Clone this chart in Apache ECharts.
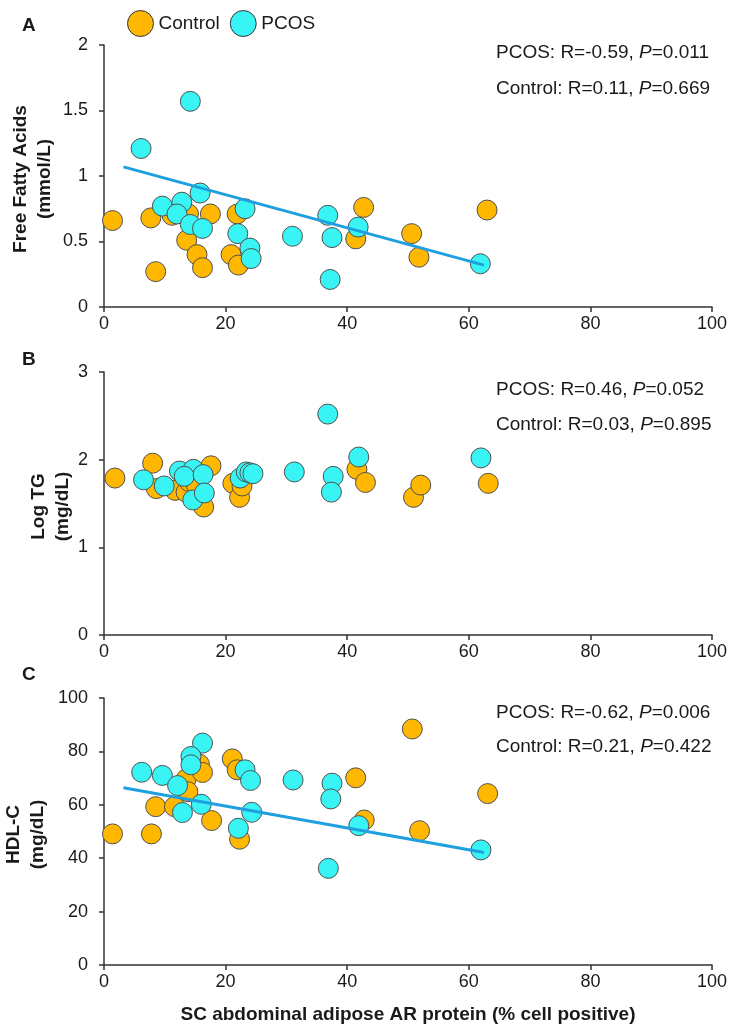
<!DOCTYPE html>
<html>
<head>
<meta charset="utf-8">
<script src="https://cdn.jsdelivr.net/npm/echarts@6/dist/echarts.min.js"></script>
<style>
html,body{margin:0;padding:0;background:#fff;}
#chart{width:737px;height:1034px;}
</style>
</head>
<body>
<div id="chart"></div>
<script>
// ---- Data ----
const xTicks = [0, 20, 40, 60, 80, 100];

const ffaControl = [[1.4,0.66],[7.7,0.68],[8.5,0.27],[11.2,0.70],[13.9,0.71],[13.6,0.51],[15.3,0.40],[16.2,0.30],[17.5,0.71],[20.9,0.40],[21.9,0.71],[22.1,0.32],[41.4,0.52],[42.7,0.76],[50.6,0.56],[51.8,0.38],[63.0,0.74]];
const ffaPCOS = [[6.1,1.21],[14.2,1.57],[15.8,0.87],[9.6,0.77],[12.8,0.80],[12.0,0.71],[23.2,0.75],[14.2,0.63],[16.2,0.60],[22.0,0.56],[31.0,0.54],[24.0,0.45],[24.2,0.37],[36.8,0.70],[37.5,0.53],[37.2,0.21],[41.8,0.61],[61.9,0.33]];
const ffaFit = [[3.2,1.07],[62.5,0.32]];

const tgControl = [[1.8,1.79],[8.0,1.96],[8.6,1.67],[11.7,1.65],[13.5,1.63],[14.0,1.75],[15.2,1.71],[16.4,1.46],[17.6,1.93],[21.2,1.73],[22.3,1.57],[22.7,1.70],[41.6,1.89],[43.0,1.74],[50.9,1.57],[52.1,1.71],[63.2,1.73]];
const tgPCOS = [[36.8,2.52],[6.5,1.77],[9.9,1.70],[12.4,1.87],[14.7,1.89],[13.2,1.81],[16.3,1.83],[14.6,1.54],[16.5,1.62],[22.4,1.79],[23.4,1.86],[24.0,1.85],[24.5,1.84],[31.3,1.86],[37.7,1.81],[37.4,1.63],[41.9,2.03],[62.0,2.02]];

const hdlControl = [[1.4,49.1],[7.8,49.1],[8.5,59.3],[11.6,59.3],[13.5,69.6],[13.8,64.9],[15.7,75.2],[16.2,72.1],[17.7,54.1],[21.1,77.2],[21.9,73.1],[22.3,47.1],[50.7,88.4],[41.4,70.1],[42.8,54.3],[51.9,50.3],[63.1,64.2]];
const hdlPCOS = [[16.2,83.1],[14.3,78.1],[14.3,75.0],[6.2,72.2],[9.6,71.0],[12.1,67.2],[23.2,73.1],[24.1,69.1],[31.1,69.3],[37.5,68.1],[37.3,62.2],[16.0,60.2],[12.9,57.1],[24.3,57.2],[22.1,51.2],[36.9,36.2],[41.9,52.2],[62.0,43.1]];
const hdlFit = [[3.2,66.4],[62.5,42.1]];

const panelLetters = ['A', 'B', 'C'];
const yNames = ['Free Fatty Acids\n(mmol/L)', 'Log TG\n(mg/dL)', 'HDL-C\n(mg/dL)'];
const yRanges = [[0, 2, 0.5], [0, 3, 1], [0, 100, 20]];
const statsPCOS = ['PCOS: R=-0.59, {i|P}=0.011', 'PCOS: R=0.46, {i|P}=0.052', 'PCOS: R=-0.62, {i|P}=0.006'];
const statsControl = ['Control: R=0.11, {i|P}=0.669', 'Control: R=0.03, {i|P}=0.895', 'Control: R=0.21, {i|P}=0.422'];

// ---- Styles ----
const FONT = '"Liberation Sans", Arial, sans-serif';
const ORANGE = '#FFB700';
const CYAN = '#38F4F4';
const LINE = '#1E9FE0';
const AX = '#333333';

const grids = [
  {left: 104, top: 45, width: 608, height: 262, containLabel: false, outerBoundsMode: 'none'},
  {left: 104, top: 372, width: 608, height: 263, containLabel: false, outerBoundsMode: 'none'},
  {left: 104, top: 698, width: 608, height: 267, containLabel: false, outerBoundsMode: 'none'}
];

const xAxes = grids.map((g, i) => ({
  gridIndex: i, type: 'value', min: 0, max: 100, interval: 20,
  axisLine: {show: true, lineStyle: {color: AX, width: 1.5}},
  axisTick: {show: true, length: 5, lineStyle: {color: AX, width: 1.5}},
  axisLabel: {color: '#1a1a1a', fontSize: 18, fontFamily: FONT, margin: 8},
  splitLine: {show: false},
  name: i === 2 ? 'SC abdominal adipose AR protein (% cell positive)' : '',
  nameLocation: 'middle', nameGap: 40,
  nameTextStyle: {color: '#1a1a1a', fontSize: 19, fontWeight: 'bold', fontFamily: FONT}
}));

const yAxes = grids.map((g, i) => ({
  gridIndex: i, type: 'value', min: yRanges[i][0], max: yRanges[i][1], interval: yRanges[i][2],
  axisLine: {show: true, lineStyle: {color: AX, width: 1.5}},
  axisTick: {show: true, length: 5, lineStyle: {color: AX, width: 1.5}},
  axisLabel: {color: '#1a1a1a', fontSize: 18, fontFamily: FONT, margin: 16},
  splitLine: {show: false}
}));

function scatter(name, data, i, color) {
  return {
    name: name, type: 'scatter', xAxisIndex: i, yAxisIndex: i, data: data,
    symbol: 'circle', symbolSize: 20,
    itemStyle: {color: color, borderColor: '#505050', borderWidth: 1, opacity: 1},
    z: 3
  };
}
function fit(data, i) {
  return {
    name: 'fit', type: 'line', xAxisIndex: i, yAxisIndex: i, data: data,
    symbol: 'none', lineStyle: {color: LINE, width: 3}, z: 4, silent: true
  };
}

const series = [
  scatter('Control', ffaControl, 0, ORANGE),
  scatter('PCOS', ffaPCOS, 0, CYAN),
  fit(ffaFit, 0),
  scatter('Control', tgControl, 1, ORANGE),
  scatter('PCOS', tgPCOS, 1, CYAN),
  scatter('Control', hdlControl, 2, ORANGE),
  scatter('PCOS', hdlPCOS, 2, CYAN),
  fit(hdlFit, 2)
];

const statY = [[53, 89], [390, 425], [713, 747]];
const letterY = [26, 360, 675];
const nameX = [33, 51, 26];
const graphic = [];
for (let i = 0; i < 3; i++) {
  graphic.push({type: 'text', left: 22, top: letterY[i] - 10,
    style: {text: panelLetters[i], font: 'bold 19px ' + FONT, fill: '#1a1a1a'}});
  graphic.push({type: 'text', x: nameX[i], y: grids[i].top + grids[i].height / 2 + 3, rotation: Math.PI / 2,
    style: {text: yNames[i], font: 'bold 19px ' + FONT, fill: '#1a1a1a', align: 'center', verticalAlign: 'middle', lineHeight: 24}});
  [statsPCOS[i], statsControl[i]].forEach((t, k) => {
    graphic.push({type: 'text', x: 496, y: statY[i][k],
      style: {text: t, fontSize: 19, fontFamily: FONT, fill: '#1a1a1a', verticalAlign: 'middle', align: 'left',
        rich: {i: {fontStyle: 'italic', fontSize: 19, fontFamily: FONT, fill: '#1a1a1a'}}}});
  });
}

const chart = echarts.init(document.getElementById('chart'), null, {renderer: 'canvas'});
chart.setOption({
  backgroundColor: '#ffffff',
  animation: false,
  textStyle: {fontFamily: FONT},
  legend: {
    data: ['Control', 'PCOS'], left: 122, top: 5, icon: 'circle',
    itemWidth: 26, itemHeight: 26, itemGap: 10,
    textStyle: {fontSize: 19, color: '#1a1a1a', fontFamily: FONT},
    itemStyle: {borderColor: '#333', borderWidth: 1}
  },
  grid: grids,
  xAxis: xAxes,
  yAxis: yAxes,
  series: series,
  graphic: graphic
});
</script>
</body>
</html>
